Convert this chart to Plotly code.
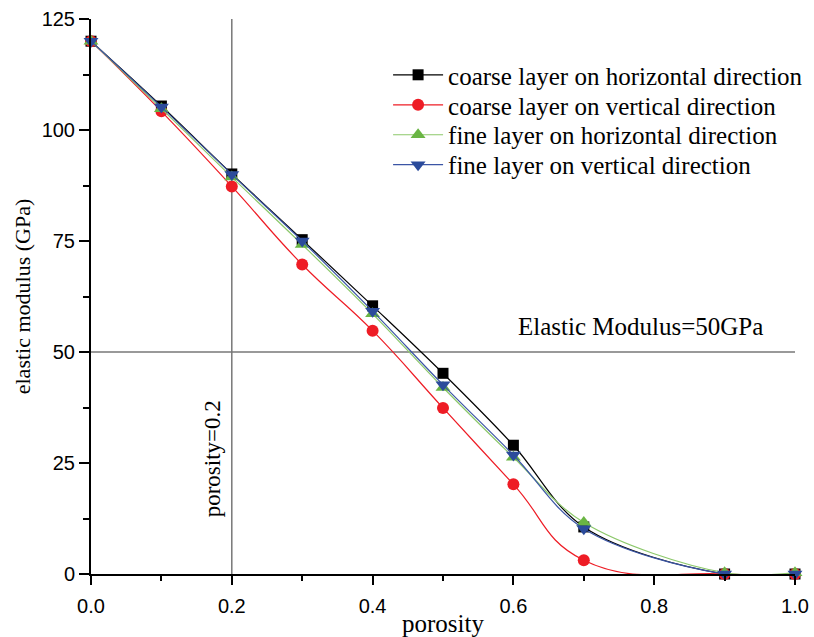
import plotly.graph_objects as go

porosity = [0.0, 0.1, 0.2, 0.3, 0.4, 0.5, 0.6, 0.7, 0.9, 1.0]
coarse_horizontal = [120, 105.4, 90.1, 75.3, 60.4, 45.2, 29.0, 10.6, 0.0, 0.0]
coarse_vertical = [120, 104.2, 87.3, 69.7, 54.8, 37.4, 20.2, 3.1, 0.0, 0.0]
fine_horizontal = [120, 104.8, 89.4, 74.2, 58.6, 42.0, 26.3, 11.6, 0.3, 0.3]
fine_vertical = [120, 105.2, 90.0, 75.0, 59.2, 42.6, 26.8, 10.2, 0.0, 0.0]

series_names = [
    "coarse layer on horizontal direction",
    "coarse layer on vertical direction",
    "fine layer on horizontal direction",
    "fine layer on vertical direction",
]
x_ticks = [0.0, 0.2, 0.4, 0.6, 0.8, 1.0]
x_ticklabels = ["0.0", "0.2", "0.4", "0.6", "0.8", "1.0"]
y_ticks = [0, 25, 50, 75, 100, 125]

ref_modulus = 50
ref_porosity = 0.2

serif = "Liberation Serif"
sans = "Liberation Sans"

fig = go.Figure()

# reference lines
fig.add_trace(go.Scatter(x=[0, 1.0], y=[ref_modulus, ref_modulus], mode="lines",
                         line=dict(color="#777777", width=1.5), showlegend=False, hoverinfo="skip"))
fig.add_trace(go.Scatter(x=[ref_porosity, ref_porosity], y=[0, 125], mode="lines",
                         line=dict(color="#777777", width=1.5), showlegend=False, hoverinfo="skip"))

styles = [
    (coarse_horizontal, "#000000", "#000000", "square", 11, 1.0),
    (coarse_vertical, "#ee1c25", "#ee1c25", "circle", 12, 1.3),
    (fine_horizontal, "#8cc86a", "#6ab544", "triangle-up", 13, 1.0),
    (fine_vertical, "#3b55a5", "#2b4b9b", "triangle-down", 13, 1.0),
]
legend_ids = ["legend", "legend2", "legend3", "legend4"]
legend_rows = [0.899, 0.845, 0.791, 0.737]

for name, lid, (vals, lc, mc, sym, ms, sm) in zip(series_names, legend_ids, styles):
    fig.add_trace(go.Scatter(
        x=porosity, y=vals, name=name, mode="lines+markers", legend=lid,
        line=dict(color=lc, width=1.2, shape="spline", smoothing=sm),
        marker=dict(color=mc, symbol=sym, size=ms, line=dict(width=0)),
        cliponaxis=False,
    ))

fig.add_annotation(x=0.78, y=55.8, xref="x", yref="y", text="Elastic Modulus=50GPa",
                   showarrow=False, font=dict(family=serif, size=25, color="black"))
fig.add_annotation(x=0.173, y=26.0, xref="x", yref="y", text="porosity=0.2", textangle=-90,
                   showarrow=False, font=dict(family=serif, size=23, color="black"))

legend_common = dict(x=0.422, xanchor="left", yanchor="middle",
                     font=dict(family=serif, size=25, color="black"),
                     bgcolor="rgba(0,0,0,0)", itemwidth=50)
legends = {lid: dict(legend_common, y=ly) for lid, ly in zip(legend_ids, legend_rows)}

fig.update_layout(
    width=814, height=637,
    margin=dict(l=91, r=19, t=19, b=63, autoexpand=False),
    paper_bgcolor="white", plot_bgcolor="white",
    showlegend=True,
    xaxis=dict(range=[0, 1.0], tickvals=x_ticks, ticktext=x_ticklabels, automargin=False,
               showgrid=False, zeroline=False, showline=True, linecolor="black", linewidth=2,
               ticks="outside", ticklen=9, tickwidth=2, tickcolor="black", ticklabelstandoff=4,
               minor=dict(dtick=0.1, ticks="outside", ticklen=5, tickwidth=2, tickcolor="black", showgrid=False),
               tickfont=dict(family=sans, size=20, color="black"),
               title=dict(text="porosity", font=dict(family=serif, size=25, color="black"), standoff=0)),
    yaxis=dict(range=[0, 125], tickvals=y_ticks, automargin=False,
               showgrid=False, zeroline=False, showline=True, linecolor="black", linewidth=2,
               ticks="outside", ticklen=10, tickwidth=2, tickcolor="black",
               minor=dict(dtick=12.5, ticks="outside", ticklen=6, tickwidth=2, tickcolor="black", showgrid=False),
               tickfont=dict(family=sans, size=20, color="black"),
               title=dict(text="elastic modulus (GPa)", font=dict(family=serif, size=22, color="black"), standoff=5)),
    **legends,
)

fig.write_html("out.html", config={"displayModeBar": False},
               post_script="document.body.style.margin='0px';")
